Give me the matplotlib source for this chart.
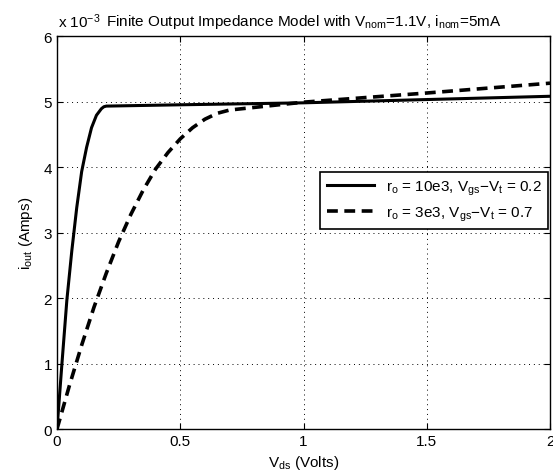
import matplotlib
matplotlib.use("Agg")
import matplotlib.pyplot as plt

plt.rcParams["font.family"] = ["Liberation Sans", "DejaVu Sans"]
plt.rcParams["mathtext.default"] = "regular"

# drain voltage (V) and output current (units of 1e-3 A)
vds_solid = [0, 0.01, 0.02, 0.04, 0.06, 0.08, 0.10, 0.12, 0.14, 0.16, 0.18, 0.19,
             0.20, 0.50, 1.00, 1.50, 2.00]
i_solid = [0, 0.50, 1.00, 1.97, 2.72, 3.38, 3.93, 4.30, 4.60, 4.79, 4.89, 4.92,
           4.93, 4.95, 4.98, 5.03, 5.08]

vds_dashed = [0, 0.05, 0.10, 0.15, 0.20, 0.25, 0.30, 0.35, 0.40, 0.45, 0.50,
              0.55, 0.60, 0.65, 0.70, 1.00, 1.50, 2.00]
i_dashed = [0, 0.66, 1.28, 1.86, 2.38, 2.86, 3.28, 3.65, 3.97, 4.22, 4.43,
            4.60, 4.73, 4.82, 4.87, 4.99, 5.13, 5.28]

labels = [r"r$_o$ = 10e3, V$_{gs}$$-$V$_t$ = 0.2",
          r"r$_o$ = 3e3, V$_{gs}$$-$V$_t$ = 0.7"]
xticks = [0, 0.5, 1, 1.5, 2]
yticks = [0, 1, 2, 3, 4, 5, 6]

fig = plt.figure(figsize=(5.53, 4.77), dpi=100)
ax = fig.add_axes([0.1031, 0.0985, 0.8915, 0.8239])

ax.plot(vds_solid, i_solid, color="black", lw=2.2, label=labels[0])
ax.plot(vds_dashed, i_dashed, color="black", lw=2.6, dashes=(3, 1.8), label=labels[1])

ax.set_xlim(0, 2)
ax.set_ylim(0, 6)
ax.set_xticks(xticks)
ax.set_xticklabels(["0", "0.5", "1", "1.5", "2"])
ax.set_yticks(yticks)
ax.tick_params(direction="in", length=4, width=0.8, labelsize=11,
               top=True, right=True, colors="black")
ax.grid(True, linestyle=(0, (1, 4)), color="black", linewidth=0.7)
for s in ax.spines.values():
    s.set_linewidth(1.0)

ax.set_xlabel(r"V$_{ds}$ (Volts)", fontsize=11, labelpad=4)
ax.set_ylabel(r"i$_{out}$ (Amps)", fontsize=11, labelpad=6)
ax.set_title(r"Finite Output Impedance Model with V$_{nom}$=1.1V, i$_{nom}$=5mA",
             fontsize=11, pad=8)
fig.text(0.105, 0.935, r"x 10$^{-3}$", fontsize=11, ha="left", va="bottom")

leg = ax.legend(loc="upper right", bbox_to_anchor=(0.991, 0.637),
                bbox_transform=fig.transFigure, borderaxespad=0,
                fontsize=11, handlelength=3.1, frameon=True, fancybox=False,
                edgecolor="black", framealpha=1, borderpad=0.4, labelspacing=0.5)
leg.get_frame().set_linewidth(1.2)

fig.savefig("out.png", dpi=100)
